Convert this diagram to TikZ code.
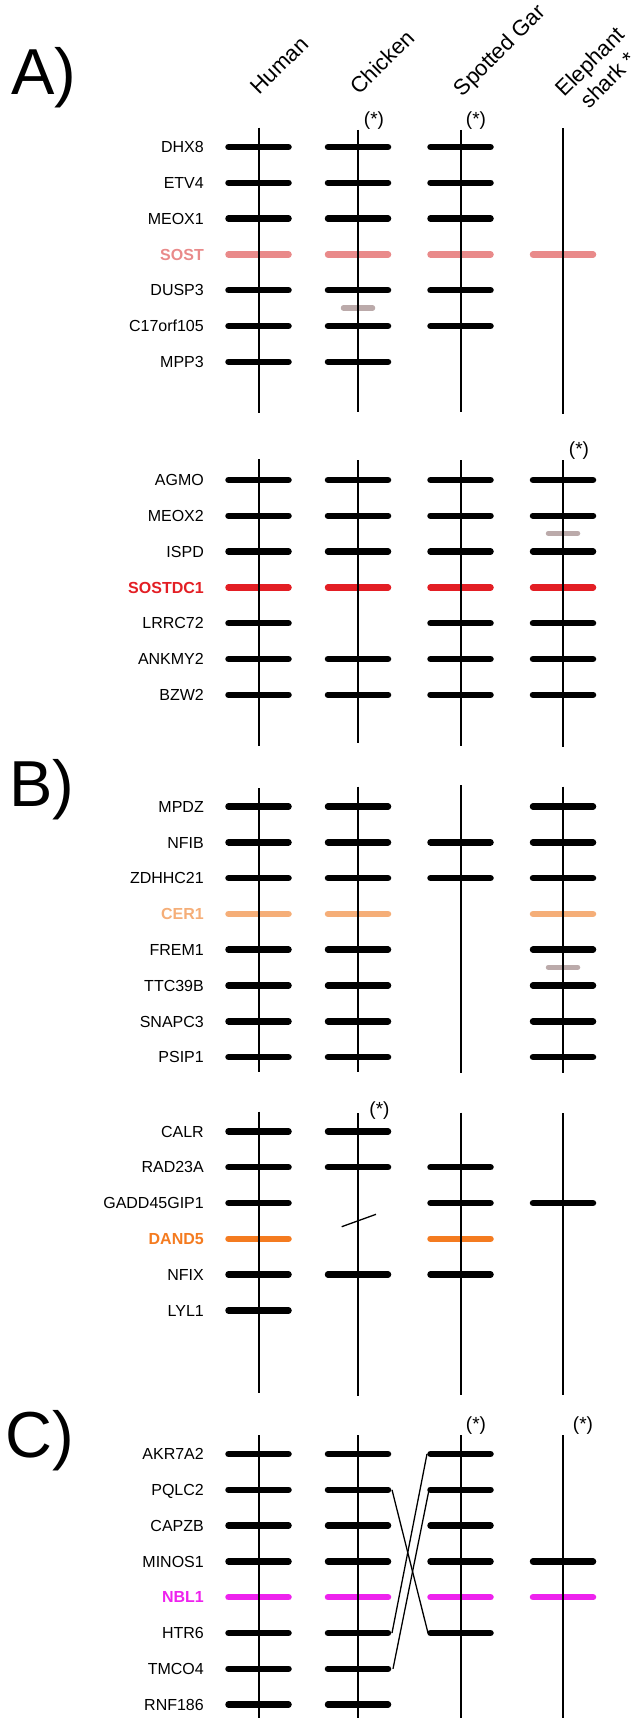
\documentclass[tikz,border=0pt]{standalone}
\usepackage{fontspec}
\setmainfont{Liberation Sans}
\definecolor{sostc}{HTML}{E98A8A}
\definecolor{sostdcc}{HTML}{E31E24}
\definecolor{cerc}{HTML}{F5AE78}
\definecolor{dandc}{HTML}{F47B20}
\definecolor{nblc}{HTML}{EE22EE}
\definecolor{ghostc}{HTML}{BBAAAA}
\newcommand\genes[4]{\foreach \i in {#3} {\draw[gene,draw=#4] ({#1-30},{#2+35.8*\i}) -- ({#1+30},{#2+35.8*\i});}}
\begin{document}
\begin{tikzpicture}[x=1pt,y=-1pt,
  chrom/.style={line width=2pt,black},
  gene/.style={line width=6.5pt,line cap=round},
  ghost/.style={line width=5.5pt,line cap=round,draw=ghostc},
  thinl/.style={line width=1.3pt,black},
  lbl/.style={anchor=base east,inner sep=0pt,font=\fontsize{16}{19}\selectfont},
  hlbl/.style={lbl,font=\fontsize{16}{19}\selectfont\bfseries},
  star/.style={inner sep=0pt,font=\fontsize{19}{22}\selectfont},
  hdr/.style={rotate=45,anchor=base west,inner sep=0pt,font=\fontsize{22}{25.5}\selectfont},
  panel/.style={anchor=base west,inner sep=0pt,font=\fontsize{65}{70}\selectfont}]
\path[use as bounding box] (0,0) rectangle (632,1718);
\def\XH{258.5}\def\XC{358}\def\XG{460.5}\def\XS{563}
% panel letters
\node[panel] (pA) at (11,95) {A)};
\node[panel] (pB) at (9,806) {B)};
\node[panel] (pC) at (5,1457) {C)};
% headers
\node[hdr] (hH) at (259.5,96) {Human};
\node[hdr] (hC) at (359.5,96) {Chicken};
\node[hdr] (hG) at (462.5,97.5) {Spotted Gar};
\node[hdr,anchor=center,align=center] (hS) at (599,70.7) {Elephant\\shark *};
% ---------- A1 ----------
\def\yA{147}
\foreach \i/\n in {0/DHX8,1/ETV4,2/MEOX1,4/DUSP3,5/C17orf105,6/MPP3}
  {\node[lbl] (la\i) at (204,{\yA+35.8*\i+5.7}) {\n};}
\node[hlbl,text=sostc] (la3) at (204,{\yA+35.8*3+5.7}) {SOST};
\genes{\XH}{\yA}{0,1,2,4,5,6}{black}
\genes{\XC}{\yA}{0,1,2,4,5,6}{black}
\genes{\XG}{\yA}{0,1,2,4,5}{black}
\genes{\XH}{\yA}{3}{sostc}
\genes{\XC}{\yA}{3}{sostc}
\genes{\XG}{\yA}{3}{sostc}
\genes{\XS}{\yA}{3}{sostc}
\draw[ghost] ({\XC-14.5},308) -- ({\XC+14.5},308);
\draw[chrom] (\XH,127.7) -- (\XH,413.3);
\draw[chrom] (\XC,130) -- (\XC,412);
\draw[chrom] (\XG,130) -- (\XG,412);
\draw[chrom] (\XS,128.3) -- (\XS,414.3);
\node[star] (sa1) at (374,121) {(*)};
\node[star] (sa2) at (476,121) {(*)};
% ---------- A2 ----------
\def\yB{480}
\foreach \i/\n in {0/AGMO,1/MEOX2,2/ISPD,4/LRRC72,5/ANKMY2,6/BZW2}
  {\node[lbl] (lb\i) at (204,{\yB+35.8*\i+5.7}) {\n};}
\node[hlbl,text=sostdcc] (lb3) at (204,{\yB+35.8*3+5.7}) {SOSTDC1};
\genes{\XH}{\yB}{0,1,2,4,5,6}{black}
\genes{\XC}{\yB}{0,1,2,5,6}{black}
\genes{\XG}{\yB}{0,1,2,4,5,6}{black}
\genes{\XS}{\yB}{0,1,2,4,5,6}{black}
\genes{\XH}{\yB}{3}{sostdcc}
\genes{\XC}{\yB}{3}{sostdcc}
\genes{\XG}{\yB}{3}{sostdcc}
\genes{\XS}{\yB}{3}{sostdcc}
\draw[ghost] ({\XS-14.5},533.3) -- ({\XS+14.5},533.3);
\draw[chrom] (\XH,459.3) -- (\XH,745.7);
\draw[chrom] (\XC,460) -- (\XC,743.3);
\draw[chrom] (\XG,460) -- (\XG,745.7);
\draw[chrom] (\XS,460) -- (\XS,747.3);
\node[star] (sb1) at (579,450.5) {(*)};
% ---------- B1 ----------
\def\yC{806.5}
\foreach \i/\n in {0/MPDZ,1/NFIB,2/ZDHHC21,4/FREM1,5/TTC39B,6/SNAPC3,7/PSIP1}
  {\node[lbl] (lc\i) at (204,{\yC+35.8*\i+5.7}) {\n};}
\node[hlbl,text=cerc] (lc3) at (204,{\yC+35.8*3+5.7}) {CER1};
\genes{\XH}{\yC}{0,1,2,4,5,6,7}{black}
\genes{\XC}{\yC}{0,1,2,4,5,6,7}{black}
\genes{\XG}{\yC}{1,2}{black}
\genes{\XS}{\yC}{0,1,2,4,5,6,7}{black}
\genes{\XH}{\yC}{3}{cerc}
\genes{\XC}{\yC}{3}{cerc}
\genes{\XS}{\yC}{3}{cerc}
\draw[ghost] ({\XS-14.5},967.3) -- ({\XS+14.5},967.3);
\draw[chrom] (\XH,788.3) -- (\XH,1072.3);
\draw[chrom] (\XC,786.7) -- (\XC,1071.7);
\draw[chrom] (\XG,785) -- (\XG,1073.3);
\draw[chrom] (\XS,786.7) -- (\XS,1073.3);
% ---------- B2 ----------
\def\yD{1131.4}
\foreach \i/\n in {0/CALR,1/RAD23A,2/GADD45GIP1,4/NFIX,5/LYL1}
  {\node[lbl] (ld\i) at (204,{\yD+35.8*\i+5.7}) {\n};}
\node[hlbl,text=dandc] (ld3) at (204,{\yD+35.8*3+5.7}) {DAND5};
\genes{\XH}{\yD}{0,1,2,4,5}{black}
\genes{\XC}{\yD}{0,1,4}{black}
\genes{\XG}{\yD}{1,2,4}{black}
\genes{\XS}{\yD}{2}{black}
\genes{\XH}{\yD}{3}{dandc}
\genes{\XG}{\yD}{3}{dandc}
\draw[chrom] (\XH,1111.7) -- (\XH,1393.3);
\draw[chrom] (\XC,1113.3) -- (\XC,1396);
\draw[chrom] (\XG,1112.7) -- (\XG,1395);
\draw[chrom] (\XS,1113.3) -- (\XS,1395);
\coordinate (brkA) at (341.7,1226.7);
\coordinate (brkB) at (376,1214.3);
\draw[thinl] (brkA) -- (brkB);
\node[star] (sd1) at (379.5,1110.5) {(*)};
% ---------- C ----------
\def\yE{1454}
\foreach \i/\n in {0/AKR7A2,1/PQLC2,2/CAPZB,3/MINOS1,5/HTR6,6/TMCO4,7/RNF186}
  {\node[lbl] (le\i) at (204,{\yE+35.8*\i+5.7}) {\n};}
\node[hlbl,text=nblc] (le4) at (204,{\yE+35.8*4+5.7}) {NBL1};
\genes{\XH}{\yE}{0,1,2,3,5,6,7}{black}
\genes{\XC}{\yE}{0,1,2,3,5,6,7}{black}
\genes{\XG}{\yE}{0,1,2,3,5}{black}
\genes{\XS}{\yE}{3}{black}
\genes{\XH}{\yE}{4}{nblc}
\genes{\XC}{\yE}{4}{nblc}
\genes{\XG}{\yE}{4}{nblc}
\genes{\XS}{\yE}{4}{nblc}
\draw[chrom] (\XH,1435) -- (\XH,1718);
\draw[chrom] (\XC,1435) -- (\XC,1718);
\draw[chrom] (\XG,1435) -- (\XG,1718);
\draw[chrom] (\XS,1435) -- (\XS,1718);
\coordinate (cPQ) at (392,{\yE+35.8*1});
\coordinate (cHT) at (392,{\yE+35.8*5});
\coordinate (cTM) at (393,{\yE+35.8*6});
\coordinate (gAK) at (427,{\yE+35.8*0});
\coordinate (gPQ) at (429,{\yE+35.8*1});
\coordinate (gHT) at (428,{\yE+35.8*5});
\draw[thinl] (cPQ) -- (gHT);
\draw[thinl] (cHT) -- (gAK);
\draw[thinl] (cTM) -- (gPQ);
\node[star] (se1) at (476,1426) {(*)};
\node[star] (se2) at (583,1426) {(*)};
\end{tikzpicture}
\end{document}
